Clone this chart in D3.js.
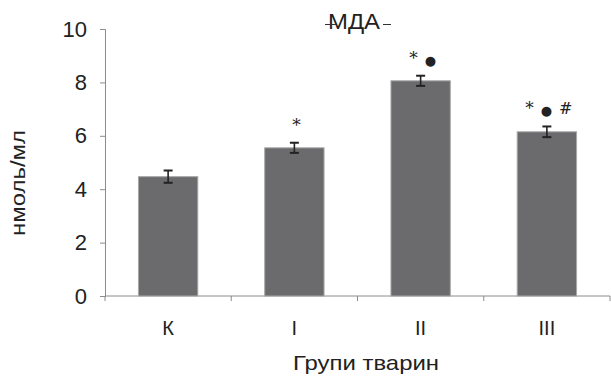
<!DOCTYPE html>
<html>
<head>
<meta charset="utf-8">
<script src="https://cdn.jsdelivr.net/npm/d3@7"></script>
<style>
  body { margin: 0; background: #fff; }
  svg { font-family: "Liberation Sans", Arial, sans-serif; }
</style>
</head>
<body>
<div id="chart"></div>
<script>
// data
var groups = ["К", "I", "II", "III"];
var means = [4.47, 5.55, 8.06, 6.15];
var errors = [0.23, 0.19, 0.19, 0.2];
var marks = ["", "*", "* ●", "* ● #"];
var yTicks = [0, 2, 4, 6, 8, 10];

var margin = { top: 29, right: 1, bottom: 80, left: 105 },
    width = 611 - margin.left - margin.right,
    height = 376 - margin.top - margin.bottom;

var svg = d3.select("#chart").append("svg")
    .attr("width", 611)
    .attr("height", 376);

var g = svg.append("g")
    .attr("transform", "translate(" + margin.left + "," + margin.top + ")");

var x = d3.scaleBand()
    .domain(groups)
    .range([0, width])
    .paddingInner(0.53)
    .paddingOuter(0.265);

var y = d3.scaleLinear()
    .domain([0, 10])
    .range([height, 0]);

// y axis
var yAxis = g.append("g")
    .call(d3.axisLeft(y).tickValues(yTicks).tickSize(5).tickPadding(13));
yAxis.select(".domain").attr("stroke", "#8c8c8c");
yAxis.selectAll(".tick line").attr("stroke", "#8c8c8c");
yAxis.selectAll(".tick text")
    .attr("fill", "#222")
    .style("font-size", "22px");

// x axis: ticks sit between categories
var band = width / groups.length;
g.append("line")
    .attr("x1", 0).attr("x2", width)
    .attr("y1", height).attr("y2", height)
    .attr("stroke", "#8c8c8c");
g.selectAll(".xtick")
    .data(d3.range(groups.length + 1))
    .enter().append("line")
    .attr("x1", function (i) { return i * band; })
    .attr("x2", function (i) { return i * band; })
    .attr("y1", height).attr("y2", height + 5)
    .attr("stroke", "#8c8c8c");
g.selectAll(".xlabel")
    .data(groups)
    .enter().append("text")
    .attr("x", function (d) { return x(d) + x.bandwidth() / 2; })
    .attr("y", height + 39)
    .attr("text-anchor", "middle")
    .attr("fill", "#222")
    .style("font-size", "20px")
    .text(function (d) { return d; });

// bars
g.selectAll(".bar")
    .data(means)
    .enter().append("rect")
    .attr("class", "bar")
    .attr("x", function (d, i) { return x(groups[i]); })
    .attr("width", x.bandwidth())
    .attr("y", function (d) { return y(d); })
    .attr("height", function (d) { return height - y(d); })
    .attr("fill", "#6b6b6d")
    .attr("stroke", "#a8a8a8")
    .attr("stroke-width", 1);

// error bars
var eb = g.selectAll(".err")
    .data(means)
    .enter().append("g")
    .attr("transform", function (d, i) {
        return "translate(" + (x(groups[i]) + x.bandwidth() / 2) + ",0)";
    });
eb.append("line")
    .attr("y1", function (d, i) { return y(d + errors[i]); })
    .attr("y2", function (d, i) { return y(d - errors[i]); })
    .attr("stroke", "#222").attr("stroke-width", 1.6);
eb.append("line")
    .attr("x1", -4.5).attr("x2", 4.5)
    .attr("y1", function (d, i) { return y(d + errors[i]); })
    .attr("y2", function (d, i) { return y(d + errors[i]); })
    .attr("stroke", "#222").attr("stroke-width", 2);
eb.append("line")
    .attr("x1", -4.5).attr("x2", 4.5)
    .attr("y1", function (d, i) { return y(d - errors[i]); })
    .attr("y2", function (d, i) { return y(d - errors[i]); })
    .attr("stroke", "#222").attr("stroke-width", 2);

// significance marks: each symbol its own tspan so the dot can be smaller
var mk = g.selectAll(".mark")
    .data(means)
    .enter().append("text")
    .attr("x", function (d, i) { return x(groups[i]) + x.bandwidth() / 2 + 2; })
    .attr("y", function (d, i) { return y(d + errors[i]) - 12; })
    .attr("text-anchor", "middle")
    .attr("fill", "#222")
    .style("font-family", "'DejaVu Serif', serif");
mk.each(function (d, i) {
    var t = d3.select(this);
    marks[i].split(" ").filter(function (s) { return s; }).forEach(function (s, k) {
        t.append("tspan")
            .attr("dx", k ? 7 : 0)
            .attr("dy", s === "●" ? 1 : (k ? -1 : 0))
            .style("font-size", s === "●" ? "13px" : (s === "#" ? "16px" : "17px"))
            .text(s);
    });
});

// title with the stray dashes
svg.append("text")
    .attr("x", 354)
    .attr("y", 29)
    .attr("text-anchor", "middle")
    .attr("fill", "#222")
    .attr("textLength", 52)
    .attr("lengthAdjust", "spacingAndGlyphs")
    .style("font-size", "22px")
    .text("МДА");
svg.append("line")
    .attr("x1", 325).attr("x2", 336).attr("y1", 24.5).attr("y2", 24.5)
    .attr("stroke", "#333").attr("stroke-width", 1);
svg.append("line")
    .attr("x1", 383).attr("x2", 391).attr("y1", 24.5).attr("y2", 24.5)
    .attr("stroke", "#333").attr("stroke-width", 1);

// axis titles
svg.append("text")
    .attr("transform", "translate(25,183) rotate(-90)")
    .attr("text-anchor", "middle")
    .attr("fill", "#222")
    .attr("textLength", 106)
    .attr("lengthAdjust", "spacingAndGlyphs")
    .style("font-size", "21px")
    .text("нмоль/мл");

svg.append("text")
    .attr("x", 366)
    .attr("y", 370)
    .attr("text-anchor", "middle")
    .attr("fill", "#222")
    .attr("textLength", 146)
    .attr("lengthAdjust", "spacingAndGlyphs")
    .style("font-size", "21px")
    .text("Групи тварин");
</script>
</body>
</html>
